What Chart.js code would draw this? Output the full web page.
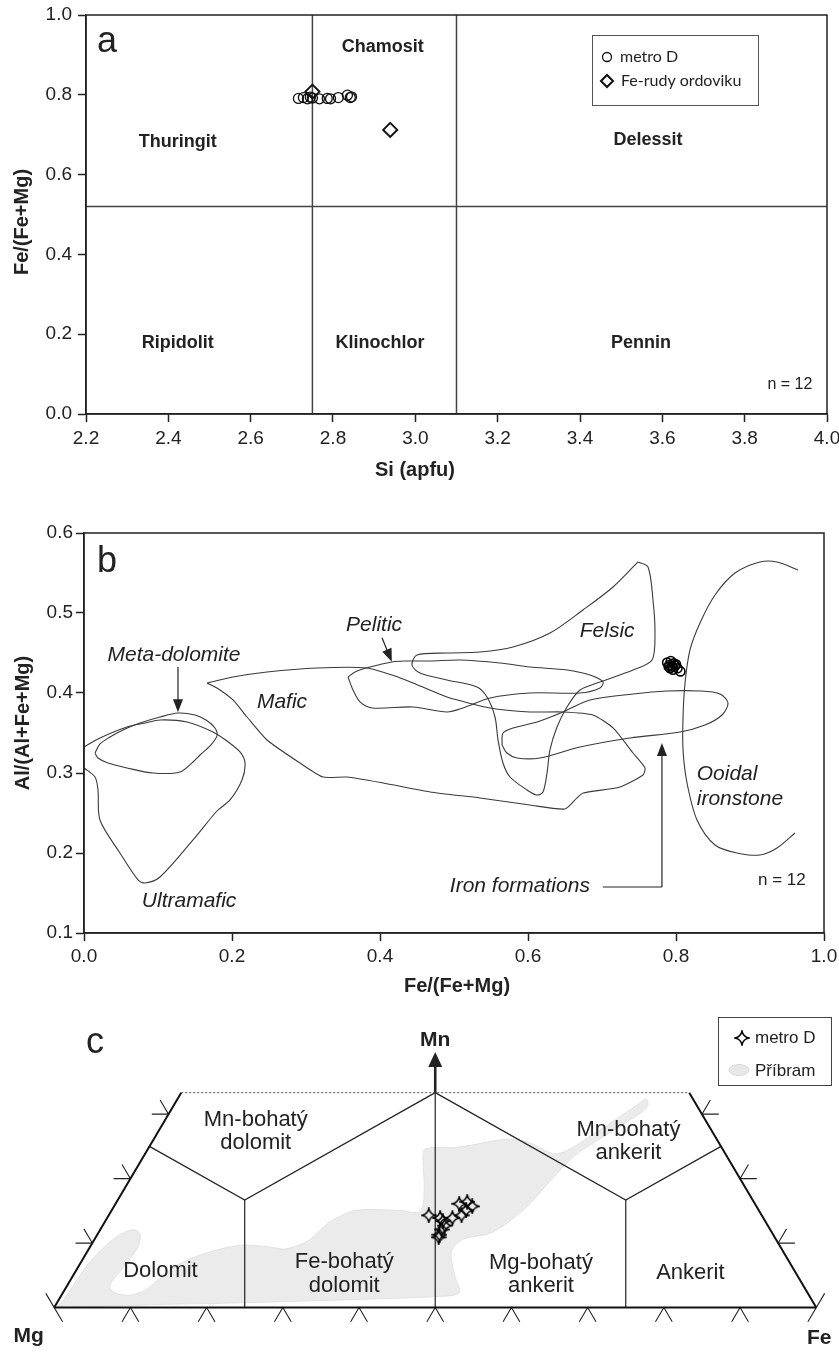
<!DOCTYPE html>
<html>
<head>
<meta charset="utf-8">
<title>Chlorit a karbonáty</title>
<script src="https://cdn.jsdelivr.net/npm/chart.js@4.4.1/dist/chart.umd.min.js"></script>
<style>
  html, body { margin: 0; padding: 0; background: #fff; }
  #wrap { position: relative; width: 839px; height: 1353px; overflow: hidden; }
  canvas { position: absolute; left: 0; }
  #chartA { top: 0; }
  #chartB { top: 495px; }
  #chartC { top: 995px; }
</style>
</head>
<body>
<div id="wrap">
  <canvas id="chartA" width="839" height="495"></canvas>
  <canvas id="chartB" width="839" height="505"></canvas>
  <canvas id="chartC" width="839" height="358"></canvas>
</div>
<script>
// Panel a - chlorite classification, Si vs Fe/(Fe+Mg)
const siTicks = [2.2, 2.4, 2.6, 2.8, 3.0, 3.2, 3.4, 3.6, 3.8, 4.0];
const feTicksA = [0.0, 0.2, 0.4, 0.6, 0.8, 1.0];
const metroSi = [2.716, 2.728, 2.738, 2.745, 2.75, 2.767, 2.786, 2.794, 2.813, 2.835, 2.842, 2.845];
const metroFeA = [0.791, 0.793, 0.790, 0.794, 0.792, 0.790, 0.791, 0.790, 0.793, 0.799, 0.793, 0.795];
const ordSi = [2.75, 2.939];
const ordFe = [0.808, 0.712];
const siLimits = [2.75, 3.1];
const feLimit = 0.52;

// Panel b - Fe/(Fe+Mg) vs Al/(Al+Fe+Mg)
const feTicksB = [0.0, 0.2, 0.4, 0.6, 0.8, 1.0];
const alTicks = [0.1, 0.2, 0.3, 0.4, 0.5, 0.6];
const metroFeB = [0.788, 0.791, 0.793, 0.795, 0.797, 0.799, 0.792, 0.796, 0.800, 0.802, 0.806, 0.790];
const metroAl = [0.438, 0.435, 0.440, 0.433, 0.437, 0.434, 0.431, 0.429, 0.436, 0.431, 0.427, 0.433];

// field outlines (open curves and closed loops)
const ultramaficX = [0, 0.0216, 0.0581, 0.0824, 0.1027, 0.1392, 0.1743, 0.1932, 0.2108, 0.2176, 0.2135, 0.1973, 0.1797, 0.1473, 0.1027, 0.0824, 0.073, 0.0486, 0.0216, 0.0189, 0.0149, 0];
const ultramaficY = [0.3325, 0.3438, 0.3575, 0.3625, 0.3663, 0.3638, 0.3513, 0.34, 0.3263, 0.3125, 0.2913, 0.2663, 0.2525, 0.2163, 0.17, 0.1625, 0.1663, 0.2, 0.2413, 0.2788, 0.295, 0.3063];
const metaDolX = [0.0149, 0.0216, 0.0351, 0.0554, 0.0757, 0.1027, 0.127, 0.15, 0.1649, 0.177, 0.1797, 0.1703, 0.1568, 0.1473, 0.1297, 0.0932, 0.0581, 0.0324, 0.0189];
const metaDolY = [0.325, 0.3363, 0.345, 0.355, 0.3625, 0.37, 0.375, 0.3725, 0.3663, 0.3563, 0.3463, 0.3338, 0.3225, 0.3138, 0.3013, 0.3, 0.3063, 0.3125, 0.3188];
const maficX = [0.1662, 0.2014, 0.2473, 0.3149, 0.3824, 0.4203, 0.4446, 0.4905, 0.5486, 0.6027, 0.6473, 0.6878, 0.7149, 0.7419, 0.7581, 0.7554, 0.7243, 0.6743, 0.6662, 0.65, 0.6027, 0.5351, 0.4676, 0.4041, 0.3554, 0.323, 0.2919, 0.2473, 0.2203, 0.2014, 0.1797];
const maficY = [0.4125, 0.42, 0.4263, 0.4313, 0.4313, 0.4213, 0.4125, 0.395, 0.3813, 0.3763, 0.3763, 0.3725, 0.3563, 0.325, 0.3063, 0.2975, 0.2825, 0.275, 0.2688, 0.255, 0.26, 0.2688, 0.2763, 0.2875, 0.295, 0.295, 0.3125, 0.3413, 0.37, 0.3913, 0.4063];
const peliticX = [0.3568, 0.3635, 0.373, 0.3892, 0.4446, 0.4905, 0.5122, 0.5486, 0.6027, 0.6703, 0.6973, 0.7014, 0.6838, 0.6527, 0.6027, 0.5622, 0.5081, 0.4676, 0.4338, 0.4162, 0.3865, 0.3662];
const peliticY = [0.42, 0.4038, 0.3888, 0.3813, 0.3825, 0.3763, 0.3813, 0.3938, 0.4, 0.4, 0.4063, 0.4138, 0.4225, 0.4288, 0.4325, 0.4375, 0.4413, 0.44, 0.44, 0.4388, 0.4325, 0.4263];
const felsicX = [0.7486, 0.7622, 0.7689, 0.7716, 0.7676, 0.7419, 0.6973, 0.6703, 0.6527, 0.6392, 0.6297, 0.6257, 0.6203, 0.6122, 0.5986, 0.5757, 0.5662, 0.5595, 0.5554, 0.5446, 0.5311, 0.4905, 0.4541, 0.4432, 0.45, 0.4905, 0.5351, 0.5797, 0.6297, 0.6743, 0.7149];
const felsicY = [0.5638, 0.5575, 0.5163, 0.475, 0.4413, 0.4288, 0.4138, 0.4038, 0.3825, 0.3575, 0.3288, 0.3, 0.2763, 0.2725, 0.2788, 0.295, 0.3125, 0.3413, 0.37, 0.395, 0.4075, 0.4163, 0.425, 0.435, 0.4475, 0.45, 0.4513, 0.4575, 0.475, 0.5038, 0.5325];
const ironX = [0.5649, 0.5662, 0.5797, 0.6122, 0.6473, 0.6838, 0.7419, 0.7878, 0.8324, 0.8595, 0.8703, 0.8622, 0.8392, 0.8054, 0.7378, 0.6703, 0.6162, 0.5851, 0.5716];
const ironY = [0.335, 0.35, 0.3563, 0.3638, 0.3763, 0.3913, 0.3988, 0.4025, 0.4025, 0.3988, 0.3875, 0.3725, 0.36, 0.3513, 0.3438, 0.3325, 0.3188, 0.3188, 0.325];
const ooidalX = [0.9649, 0.9365, 0.9135, 0.8797, 0.8527, 0.8324, 0.8189, 0.8122, 0.8095, 0.8095, 0.8149, 0.8284, 0.8527, 0.8824, 0.9135, 0.9365, 0.9608];
const ooidalY = [0.5538, 0.5638, 0.5638, 0.55, 0.5225, 0.4875, 0.4538, 0.4125, 0.37, 0.3288, 0.2875, 0.2413, 0.21, 0.2, 0.1975, 0.2063, 0.225];

// Panel c - carbonates, ternary Mg-Fe-Mn (fractions of Fe and Mn)
const metroFeC = [0.420, 0.437, 0.443, 0.449, 0.448, 0.449, 0.450, 0.453, 0.463, 0.451, 0.460, 0.470, 0.465];
const metroMnC = [0.143, 0.139, 0.134, 0.127, 0.121, 0.113, 0.109, 0.139, 0.143, 0.161, 0.164, 0.157, 0.151];
const pribramFe = [0.003, 0.007, 0.011, 0.026, 0.042, 0.055, 0.063, 0.059, 0.056, 0.069, 0.092, 0.108, 0.124, 0.141, 0.173, 0.199, 0.236, 0.258, 0.282, 0.294, 0.315, 0.336, 0.379, 0.406, 0.394, 0.370, 0.364, 0.407, 0.462, 0.494, 0.541, 0.576, 0.607, 0.615, 0.622, 0.619, 0.591, 0.565, 0.553, 0.541, 0.516, 0.483, 0.478, 0.501, 0.520, 0.507, 0.371, 0.244, 0.129];
const pribramMn = [0, 0.0164, 0.0686, 0.1088, 0.1207, 0.1148, 0.0939, 0.0596, 0.0343, 0.0224, 0.0194, 0.0298, 0.0596, 0.076, 0.0909, 0.0969, 0.0939, 0.0909, 0.1043, 0.1311, 0.149, 0.152, 0.1505, 0.149, 0.1833, 0.228, 0.2459, 0.2489, 0.2608, 0.2563, 0.2385, 0.2727, 0.313, 0.3234, 0.3145, 0.3025, 0.2683, 0.2355, 0.1982, 0.1535, 0.1162, 0.1058, 0.0864, 0.0492, 0.0238, 0.0179, 0.0119, 0.0075, 0.0045];
const mnTop = 1 / 3;
const boundaryFe = [[0.5, 1 / 3], [1 / 3, 1 / 6, 0], [1 / 6, 0.25], [1 / 3, 2 / 3, 0.75], [2 / 3, 0.75]];
const boundaryMn = [[0, 1 / 3], [1 / 3, 1 / 6, 0.25], [1 / 6, 0], [1 / 3, 1 / 6, 0.25], [1 / 6, 0]];
const baseTicks = [0.1, 0.2, 0.3, 0.4, 0.5, 0.6, 0.7, 0.8, 0.9];
const sideTicks = [0.1, 0.2, 0.3];

const FONT = '"Liberation Sans", Arial, sans-serif';
const INK = '#222';

function zip(xs, ys) {
    return xs.map((x, i) => ({ x: x, y: ys[i] }));
}

function closeLoop(pts) {
    return pts.concat([pts[0]]);
}

// ternary (Fe, Mn) -> plot coords: x along Mg-Fe base, y in Mn units
function tern(fe, mn) {
    return { x: fe + mn / 2, y: mn };
}

function curve(points, extra) {
    return Object.assign({
        data: points,
        showLine: true,
        borderColor: '#333',
        borderWidth: 1.2,
        pointRadius: 0,
        fill: false,
        tension: 0,
        order: 1
    }, extra || {});
}

function drawText(ctx, str, x, y, size, opts) {
    opts = opts || {};
    ctx.save();
    ctx.font = (opts.style || 'normal') + ' ' + (opts.weight || 'normal') + ' ' + size + 'px ' + (opts.family || FONT);
    ctx.fillStyle = opts.color || INK;
    ctx.textAlign = opts.align || 'center';
    ctx.textBaseline = opts.baseline || 'middle';
    if (opts.rotate) {
        ctx.translate(x, y);
        ctx.rotate(opts.rotate);
        ctx.fillText(str, 0, 0);
    } else {
        ctx.fillText(str, x, y);
    }
    ctx.restore();
}

function drawArrow(ctx, x1, y1, x2, y2, width, len, half) {
    const ang = Math.atan2(y2 - y1, x2 - x1);
    len = len || 13;
    half = half || 5;
    ctx.save();
    ctx.strokeStyle = INK;
    ctx.fillStyle = INK;
    ctx.lineWidth = width || 1.2;
    ctx.beginPath();
    ctx.moveTo(x1, y1);
    ctx.lineTo(x2 - Math.cos(ang) * len * 0.8, y2 - Math.sin(ang) * len * 0.8);
    ctx.stroke();
    ctx.beginPath();
    ctx.moveTo(x2, y2);
    ctx.lineTo(x2 - Math.cos(ang) * len + Math.sin(ang) * half, y2 - Math.sin(ang) * len - Math.cos(ang) * half);
    ctx.lineTo(x2 - Math.cos(ang) * len - Math.sin(ang) * half, y2 - Math.sin(ang) * len + Math.cos(ang) * half);
    ctx.closePath();
    ctx.fill();
    ctx.restore();
}

function makeStar(size) {
    const c = document.createElement('canvas');
    c.width = size;
    c.height = size;
    const g = c.getContext('2d');
    const m = size / 2, r = size / 2 - 1, k = r * 0.16;
    g.beginPath();
    g.moveTo(m, m - r);
    g.quadraticCurveTo(m + k, m - k, m + r, m);
    g.quadraticCurveTo(m + k, m + k, m, m + r);
    g.quadraticCurveTo(m - k, m + k, m - r, m);
    g.quadraticCurveTo(m - k, m - k, m, m - r);
    g.closePath();
    g.lineWidth = 1.4;
    g.strokeStyle = '#000';
    g.stroke();
    return c;
}

// axis setup shared by panels a and b
function axis(ticks, size, pad, isX) {
    return {
        type: 'linear',
        min: ticks[0],
        max: ticks[ticks.length - 1],
        afterBuildTicks: s => { s.ticks = ticks.map(v => ({ value: v })); },
        afterFit: s => {
            if (isX) { s.height = size; s.paddingLeft = 0; s.paddingRight = 0; }
            else { s.width = size; s.paddingTop = 0; s.paddingBottom = 0; }
        },
        grid: { drawOnChartArea: false, drawTicks: true, tickLength: 8, tickColor: INK, tickWidth: 1.5 },
        border: { display: true, color: INK, width: 1.5 },
        ticks: {
            color: INK,
            font: { family: FONT, size: 19 },
            padding: pad,
            maxRotation: 0,
            autoSkip: false,
            callback: v => Number(v).toFixed(1)
        }
    };
}

const framePlugin = {
    id: 'frame',
    afterDraw(chart) {
        const { ctx, chartArea: a } = chart;
        ctx.save();
        ctx.strokeStyle = INK;
        ctx.lineWidth = 1.5;
        ctx.strokeRect(a.left, a.top, a.right - a.left, a.bottom - a.top);
        ctx.restore();
    }
};

const baseOptions = {
    responsive: false,
    animation: false,
    events: [],
    plugins: { legend: { display: false }, tooltip: { enabled: false } }
};

// ---------- Panel a ----------
function initPanelA() {
    const ctx = document.getElementById('chartA').getContext('2d');
    const datasets = [
        curve([{ x: siTicks[0], y: feLimit }, { x: siTicks[siTicks.length - 1], y: feLimit }], { borderColor: '#444', borderWidth: 1.5 }),
        curve([{ x: siLimits[0], y: 0 }, { x: siLimits[0], y: 1 }], { borderColor: '#444', borderWidth: 1.5 }),
        curve([{ x: siLimits[1], y: 0 }, { x: siLimits[1], y: 1 }], { borderColor: '#444', borderWidth: 1.5 }),
        {
            data: zip(metroSi, metroFeA), showLine: false, order: 0,
            pointStyle: 'circle', pointRadius: 5, pointBorderWidth: 1.3,
            pointBorderColor: '#111', pointBackgroundColor: 'rgba(0,0,0,0)'
        },
        {
            data: zip(ordSi, ordFe), showLine: false, order: 0,
            pointStyle: 'rectRot', pointRadius: 7, pointBorderWidth: 2,
            pointBorderColor: '#111', pointBackgroundColor: 'rgba(0,0,0,0)'
        }
    ];

    const labelsA = {
        id: 'labelsA',
        afterDraw(chart) {
            const c = chart.ctx, sx = chart.scales.x, sy = chart.scales.y;
            const at = (x, y) => [sx.getPixelForValue(x), sy.getPixelForValue(y)];
            const fields = [
                ['Chamosit', 2.921, 0.92], ['Thuringit', 2.423, 0.682], ['Delessit', 3.565, 0.687],
                ['Ripidolit', 2.423, 0.178], ['Klinochlor', 2.914, 0.178], ['Pennin', 3.548, 0.178]
            ];
            fields.forEach(f => {
                const p = at(f[1], f[2]);
                drawText(c, f[0], p[0], p[1], 18, { weight: 'bold' });
            });
            const n = at(3.91, 0.073);
            drawText(c, 'n = 12', n[0], n[1], 16);
            drawText(c, 'a', 97, 52, 36, { align: 'left', baseline: 'alphabetic' });

            // axis titles
            drawText(c, 'Fe/(Fe+Mg)', 22, 222, 20, { weight: 'bold', rotate: -Math.PI / 2 });
            drawText(c, 'Si (apfu)', 415, 470, 20, { weight: 'bold' });

            // legend
            c.save();
            c.strokeStyle = '#555';
            c.lineWidth = 1;
            c.strokeRect(592.5, 35.5, 166, 70);
            c.strokeStyle = '#111';
            c.lineWidth = 1.3;
            c.beginPath();
            c.arc(607, 57, 4.5, 0, Math.PI * 2);
            c.stroke();
            c.lineWidth = 2;
            c.beginPath();
            c.moveTo(601, 81); c.lineTo(607, 75); c.lineTo(613, 81); c.lineTo(607, 87);
            c.closePath();
            c.stroke();
            c.restore();
            drawText(c, 'metro D', 620, 57, 16, { align: 'left', family: 'Lato, sans-serif' });
            drawText(c, 'Fe-rudy ordoviku', 621, 81, 16, { align: 'left', family: 'Lato, sans-serif' });
        }
    };

    new Chart(ctx, {
        type: 'line',
        data: { datasets: datasets },
        options: Object.assign({}, baseOptions, {
            layout: { padding: { left: 0, top: 15, right: 12, bottom: 0 } },
            scales: {
                x: axis(siTicks, 81, 5, true),
                y: axis(feTicksA, 86, 6, false)
            }
        }),
        plugins: [framePlugin, labelsA]
    });
}

// ---------- Panel b ----------
function initPanelB() {
    const ctx = document.getElementById('chartB').getContext('2d');
    const fieldStyle = { borderColor: '#3a3a3a', borderWidth: 1.1, tension: 0.3 };
    const datasets = [
        curve(zip(ultramaficX, ultramaficY), fieldStyle),
        curve(closeLoop(zip(metaDolX, metaDolY)), fieldStyle),
        curve(closeLoop(zip(maficX, maficY)), Object.assign({}, fieldStyle, { tension: 0.2 })),
        curve(closeLoop(zip(peliticX, peliticY)), fieldStyle),
        curve(closeLoop(zip(felsicX, felsicY)), fieldStyle),
        curve(closeLoop(zip(ironX, ironY)), fieldStyle),
        curve(zip(ooidalX, ooidalY), fieldStyle),
        {
            data: zip(metroFeB, metroAl), showLine: false, order: 0,
            pointStyle: 'circle', pointRadius: 4.5, pointBorderWidth: 1.6,
            pointBorderColor: '#000', pointBackgroundColor: 'rgba(0,0,0,0)'
        }
    ];

    const labelsB = {
        id: 'labelsB',
        afterDraw(chart) {
            const c = chart.ctx, sx = chart.scales.x, sy = chart.scales.y;
            const X = v => sx.getPixelForValue(v), Y = v => sy.getPixelForValue(v);
            const it = { style: 'italic' };
            drawText(c, 'Meta-dolomite', X(0.1216), Y(0.4475), 21, it);
            drawText(c, 'Mafic', X(0.2676), Y(0.389), 21, it);
            drawText(c, 'Pelitic', X(0.392), Y(0.485), 21, it);
            drawText(c, 'Felsic', X(0.707), Y(0.4775), 21, it);
            drawText(c, 'Ooidal', X(0.828), Y(0.299), 21, { style: 'italic', align: 'left' });
            drawText(c, 'ironstone', X(0.828), Y(0.2675), 21, { style: 'italic', align: 'left' });
            drawText(c, 'Ultramafic', X(0.142), Y(0.14), 21, it);
            drawText(c, 'Iron formations', X(0.589), Y(0.159), 21, it);
            drawText(c, 'n = 12', X(0.943), Y(0.166), 17);

            drawArrow(c, X(0.127), Y(0.4325), X(0.127), Y(0.376));
            drawArrow(c, X(0.4027), Y(0.469), X(0.416), Y(0.439));
            c.save();
            c.strokeStyle = INK;
            c.lineWidth = 1.2;
            c.beginPath();
            c.moveTo(X(0.701), Y(0.1575));
            c.lineTo(X(0.781), Y(0.1575));
            c.stroke();
            c.restore();
            drawArrow(c, X(0.781), Y(0.1575), X(0.781), Y(0.3375));

            drawText(c, 'b', 97, 77, 36, { align: 'left', baseline: 'alphabetic' });
            drawText(c, 'Al/(Al+Fe+Mg)', 23, 228, 20, { weight: 'bold', rotate: -Math.PI / 2 });
            drawText(c, 'Fe/(Fe+Mg)', 457, 491, 20, { weight: 'bold' });
        }
    };

    new Chart(ctx, {
        type: 'line',
        data: { datasets: datasets },
        options: Object.assign({}, baseOptions, {
            layout: { padding: { left: 0, top: 38, right: 15, bottom: 0 } },
            scales: {
                x: axis(feTicksB, 67, 4, true),
                y: axis(alTicks, 84, 3, false)
            }
        }),
        plugins: [framePlugin, labelsB]
    });
}

// ---------- Panel c ----------
function initPanelC() {
    const ctx = document.getElementById('chartC').getContext('2d');
    const star = makeStar(16);
    const L = 0.022; // tick leg length (fraction of side)
    const datasets = [];

    // Příbram field
    datasets.push(curve(closeLoop(pribramFe.map((f, i) => tern(f, pribramMn[i]))), {
        borderColor: '#e2e2e2', borderWidth: 1, backgroundColor: '#ebebeb',
        fill: 'shape', tension: 0.3, order: 3
    }));

    // outer frame of the truncated triangle
    const edge = { borderColor: '#111', borderWidth: 2, order: 1 };
    datasets.push(curve([tern(0, 0), tern(1, 0)], edge));
    datasets.push(curve([tern(0, 0), tern(0, mnTop)], edge));
    datasets.push(curve([tern(1, 0), tern(1 - mnTop, mnTop)], edge));
    datasets.push(curve([tern(0, mnTop), tern(1 - mnTop, mnTop)], { borderColor: '#555', borderWidth: 1, borderDash: [2, 2] }));

    // field boundaries
    boundaryFe.forEach((fs, i) => {
        datasets.push(curve(fs.map((f, j) => tern(f, boundaryMn[i][j])), { borderColor: INK, borderWidth: 1.2 }));
    });

    // ticks on the base
    const tickStyle = { borderColor: '#222', borderWidth: 1.1 };
    baseTicks.forEach(t => {
        datasets.push(curve([{ x: t - L / 2, y: -L }, { x: t, y: 0 }, { x: t + L / 2, y: -L }], tickStyle));
    });
    // ticks on the side edges
    sideTicks.forEach(m => {
        const xl = m / 2, xr = 1 - m / 2;
        datasets.push(curve([{ x: xl - L, y: m }, { x: xl, y: m }, { x: xl - L / 2, y: m + L }], tickStyle));
        datasets.push(curve([{ x: xr + L, y: m }, { x: xr, y: m }, { x: xr + L / 2, y: m + L }], tickStyle));
    });
    // vertex ticks
    datasets.push(curve([{ x: -L / 2, y: L }, { x: L / 2, y: -L }], tickStyle));
    datasets.push(curve([{ x: 1 + L / 2, y: L }, { x: 1 - L / 2, y: -L }], tickStyle));

    // metro D analyses
    datasets.push({
        data: metroFeC.map((f, i) => tern(f, metroMnC[i])),
        showLine: false, order: 0,
        pointStyle: star, pointRadius: 6
    });

    const labelsC = {
        id: 'labelsC',
        afterDraw(chart) {
            const c = chart.ctx, sx = chart.scales.x, sy = chart.scales.y;
            const X = v => sx.getPixelForValue(v), Y = v => sy.getPixelForValue(v);
            const names = [
                ['Mn-bohatý', 0.2645, 0.2906], ['dolomit', 0.2645, 0.2548],
                ['Dolomit', 0.1394, 0.0566],
                ['Fe-bohatý', 0.3806, 0.0715], ['dolomit', 0.3806, 0.0343],
                ['Mg-bohatý', 0.6387, 0.0686], ['ankerit', 0.6387, 0.0328],
                ['Ankerit', 0.8348, 0.0537],
                ['Mn-bohatý', 0.7535, 0.2757], ['ankerit', 0.7535, 0.24]
            ];
            names.forEach(n => drawText(c, n[0], X(n[1]), Y(n[2]), 22));

            drawText(c, 'Mn', X(0.5), Y(0.414), 21, { weight: 'bold' });
            drawText(c, 'Mg', X(-0.0335), Y(-0.0447), 21, { weight: 'bold' });
            drawText(c, 'Fe', X(1.0039), Y(-0.0477), 21, { weight: 'bold' });
            drawText(c, 'c', 86, 58, 36, { align: 'left', baseline: 'alphabetic' });
            drawArrow(c, X(0.5), Y(mnTop), X(0.5), Y(0.3964), 2.6, 15, 7);

            // legend
            c.save();
            c.strokeStyle = '#444';
            c.lineWidth = 1;
            c.strokeRect(718.5, 22.5, 113, 68);
            c.drawImage(star, 742 - star.width / 2, 43 - star.height / 2);
            c.fillStyle = '#e8e8e8';
            c.strokeStyle = '#d8d8d8';
            c.beginPath();
            c.ellipse(739, 75, 10, 5.5, 0, 0, Math.PI * 2);
            c.fill();
            c.stroke();
            c.restore();
            drawText(c, 'metro D', 755, 43, 17, { align: 'left' });
            drawText(c, 'Příbram', 755, 76, 17, { align: 'left' });
        }
    };

    new Chart(ctx, {
        type: 'line',
        data: { datasets: datasets },
        options: Object.assign({}, baseOptions, {
            layout: { padding: 0 },
            scales: {
                x: { type: 'linear', display: false, min: -48 / 775, max: 791 / 775 },
                y: { type: 'linear', display: false, min: -40 / 671, max: 318 / 671 }
            }
        }),
        plugins: [labelsC]
    });
}

initPanelA();
initPanelB();
initPanelC();
</script>
</body>
</html>
